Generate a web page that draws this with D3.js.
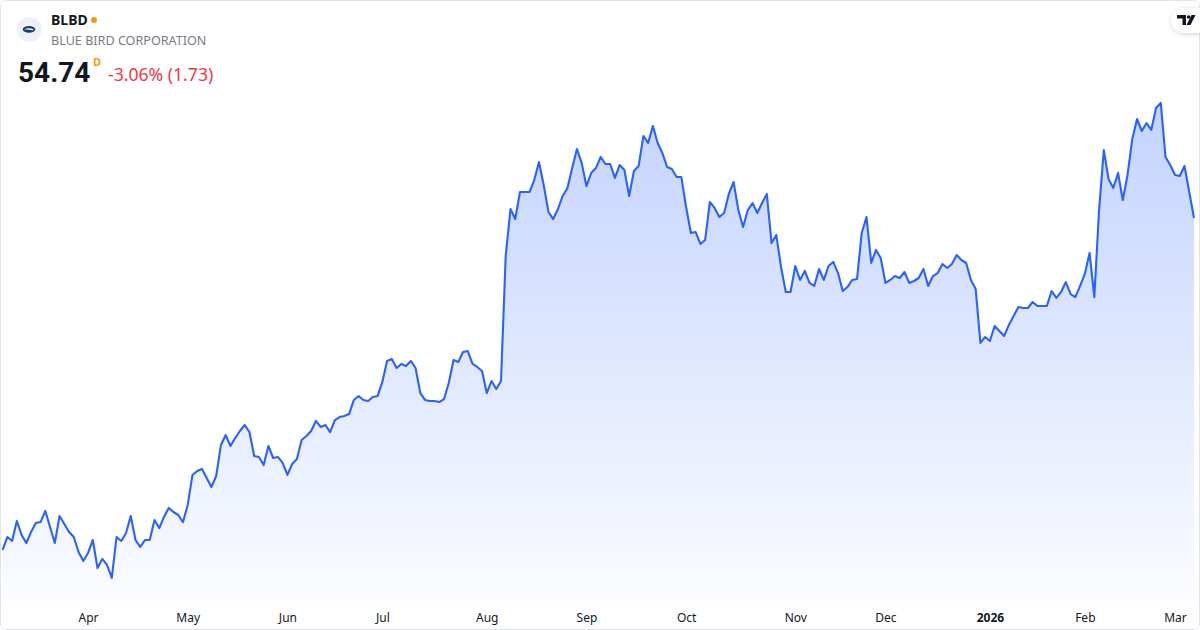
<!DOCTYPE html>
<html><head><meta charset="utf-8">
<script src="https://cdn.jsdelivr.net/npm/d3@7"></script>
<style>html,body{margin:0;padding:0;background:#fff;} svg{display:block;}</style>
</head><body><svg id="c" width="1200" height="630"></svg>
<script>
// ---- data ----
const symbol = "BLBD";
const companyName = "BLUE BIRD CORPORATION";
const lastPriceText = "54.74";
const changeText = "-3.06% (1.73)";
const intervalText = "D";
const startDate = "2025-03-06";
const endDate = "2026-03-06";
const holidays = ["2025-04-18","2025-05-26","2025-06-19","2025-07-04","2025-09-01","2025-11-27","2025-12-25","2026-01-01","2026-01-19","2026-02-16"];
const prices = [
32.61,33.47,33.21,34.54,33.61,33.07,33.81,34.41,34.47,35.21,
34.14,33.07,34.87,34.34,33.81,33.47,32.47,31.87,32.41,33.27,
31.41,32.01,31.61,30.74,33.47,33.21,33.74,34.87,33.27,32.81,
33.27,33.27,34.61,34.07,34.81,35.41,35.14,34.94,34.47,35.61,
37.61,37.87,38.01,37.41,36.81,37.54,39.61,40.27,39.54,40.07,
40.54,40.94,40.47,38.87,38.81,38.27,39.54,38.74,38.81,38.41,
37.61,38.34,38.67,39.94,40.21,40.54,41.21,40.81,40.94,40.47,
41.27,41.47,41.54,41.67,42.61,42.87,42.61,42.54,42.81,42.87,
43.81,45.21,45.34,44.74,45.01,44.87,45.21,44.74,43.07,42.61,
42.54,42.54,42.47,42.67,43.74,45.27,45.14,45.81,45.87,45.01,
44.81,44.54,43.07,43.87,43.34,43.87,52.27,55.34,54.67,56.47,
56.47,56.47,57.27,58.47,56.94,55.14,54.67,55.34,56.21,56.74,
58.07,59.34,58.41,56.87,57.74,58.07,58.81,58.34,58.34,57.41,
58.27,57.94,56.21,57.87,58.21,60.21,59.74,60.87,59.74,59.07,
58.14,58.01,57.47,57.47,55.47,53.74,53.81,53.01,53.27,55.81,
55.41,54.81,55.07,56.34,57.14,55.27,54.14,55.27,55.74,55.07,
55.74,56.34,53.07,53.61,51.47,49.81,49.81,51.54,50.61,51.21,
50.41,50.21,51.34,50.61,51.54,51.81,51.07,49.87,50.14,50.61,
50.67,53.74,54.81,51.74,52.61,52.07,50.41,50.61,50.87,50.74,
51.14,50.41,50.54,50.74,51.34,50.21,50.87,51.07,51.67,51.41,
51.67,52.27,51.94,51.74,50.61,50.01,46.41,46.81,46.54,47.54,
47.21,46.87,47.61,48.21,48.81,48.74,48.74,49.14,48.87,48.87,
48.87,49.87,49.41,49.81,50.47,49.67,49.47,50.21,51.01,52.41,
49.47,55.27,59.27,57.34,56.74,57.74,55.94,57.61,60.01,61.34,
60.54,61.07,60.61,62.07,62.41,58.81,58.27,57.61,57.54,58.21,
56.47,54.74
];
const tickDates = ["2025-04-01","2025-05-01","2025-06-02","2025-07-01","2025-08-01","2025-09-02","2025-10-01","2025-11-03","2025-12-01","2026-01-02","2026-02-02","2026-03-02"];
const tickLabels = ["Apr","May","Jun","Jul","Aug","Sep","Oct","Nov","Dec","2026","Feb","Mar"];
const boldTicks = ["2026"];

// ---- trading calendar ----
const fmt = d3.utcFormat("%Y-%m-%d");
const dates = [];
for (let d = new Date(startDate + "T00:00:00Z"); d <= new Date(endDate + "T00:00:00Z"); d = d3.utcDay.offset(d, 1)) {
  const wd = d.getUTCDay();
  const s = fmt(d);
  if (wd === 0 || wd === 6 || holidays.includes(s)) continue;
  dates.push(s);
}
const series = dates.map((d, i) => ({date: d, value: prices[i]})).filter(d => d.value !== undefined);

// ---- drawing ----
const W = 1200, H = 630;
const svg = d3.select("#c");
const FONT = "'Noto Sans', Roboto, sans-serif";

const x = d3.scalePoint().domain(dates).range([2.6, 1194]);
const y = d3.scaleLinear().domain([30, 65]).range([589.1, 64.1]);
const paneBottom = 601;

const defs = svg.append("defs");
const grad = defs.append("linearGradient").attr("id", "ag")
  .attr("gradientUnits", "userSpaceOnUse").attr("x1", 0).attr("x2", 0).attr("y1", 100).attr("y2", paneBottom);
grad.append("stop").attr("offset", 0).attr("stop-color", "#2962ff").attr("stop-opacity", 0.28);
grad.append("stop").attr("offset", 1).attr("stop-color", "#2962ff").attr("stop-opacity", 0.02);
const sh = defs.append("filter").attr("id", "sh").attr("x", -0.5).attr("y", -0.5).attr("width", 2).attr("height", 2);
sh.append("feDropShadow").attr("dx", 0).attr("dy", 1).attr("stdDeviation", 2).attr("flood-color", "#000").attr("flood-opacity", 0.18);

svg.append("rect").attr("width", W).attr("height", H).attr("fill", "#fff");

const area = d3.area().x(d => x(d.date)).y0(paneBottom).y1(d => y(d.value));
const line = d3.line().x(d => x(d.date)).y(d => y(d.value));
svg.append("path").datum(series).attr("d", area).attr("fill", "url(#ag)");
svg.append("path").datum(series).attr("d", line).attr("fill", "none")
  .attr("stroke", "#2962ff").attr("stroke-width", 2.1).attr("stroke-linejoin", "round");

// x axis
const xAxis = d3.axisBottom(x).tickValues(tickDates).tickFormat((d, i) => tickLabels[i]).tickSize(0).tickPadding(8);
const gx = svg.append("g").attr("transform", `translate(0,${605})`).call(xAxis);
gx.select(".domain").remove();
gx.selectAll("text").attr("font-family", FONT).attr("font-size", 12).attr("fill", "#131722")
  .attr("font-weight", (d, i) => boldTicks.includes(tickLabels[i]) ? 700 : 400);

// border
svg.append("rect").attr("x", 0.5).attr("y", 0.5).attr("width", W - 1).attr("height", H - 1)
  .attr("rx", 6).attr("fill", "none").attr("stroke", "#e0e3eb");

// header
const hdr = svg.append("g");
hdr.append("circle").attr("cx", 29.5).attr("cy", 29.5).attr("r", 12.5).attr("fill", "#eef1f7");
hdr.append("ellipse").attr("cx", 29).attr("cy", 29.4).attr("rx", 6.2).attr("ry", 3.4).attr("fill", "#0c3c74");
hdr.append("path").attr("d", "M24.2,29.6 C26.5,28 30,27.7 33.8,29.2 L32.2,30.6 C30,29.6 27,29.5 24.2,29.6 Z").attr("fill", "#fff");
hdr.append("text").attr("x", 51).attr("y", 25).text(symbol)
  .attr("font-family", FONT).attr("font-size", 14).attr("font-weight", 700).attr("fill", "#131722");
hdr.append("circle").attr("cx", 94).attr("cy", 20).attr("r", 3).attr("fill", "#ff9800");
hdr.append("text").attr("x", 51).attr("y", 45).text(companyName)
  .attr("font-family", FONT).attr("font-size", 12.6).attr("fill", "#787b86");
hdr.append("text").attr("x", 18).attr("y", 82).text(lastPriceText)
  .attr("font-family", "Roboto, sans-serif").attr("font-size", 28).attr("font-weight", 700).attr("fill", "#131722");
hdr.append("text").attr("x", 93).attr("y", 66).text(intervalText)
  .attr("font-family", FONT).attr("font-size", 11).attr("font-weight", 700).attr("fill", "#ff9800");
hdr.append("text").attr("x", 108).attr("y", 81).text(changeText)
  .attr("font-family", FONT).attr("font-size", 17.6).attr("fill", "#f23645");

// TV logo
const tv = svg.append("g");
tv.append("rect").attr("x", 1171).attr("y", 8).attr("width", 40).attr("height", 25).attr("rx", 12.5)
  .attr("fill", "#fff").attr("filter", "url(#sh)");
tv.append("path").attr("d", "M1177,15 H1186 V25 H1182.5 V18.5 H1177 Z").attr("fill", "#131722");
tv.append("circle").attr("cx", 1188.6).attr("cy", 17).attr("r", 1.8).attr("fill", "#131722");
tv.append("path").attr("d", "M1191.5,15 H1195.5 L1190.5,25 H1186.5 Z").attr("fill", "#131722");
</script>
</body></html>
